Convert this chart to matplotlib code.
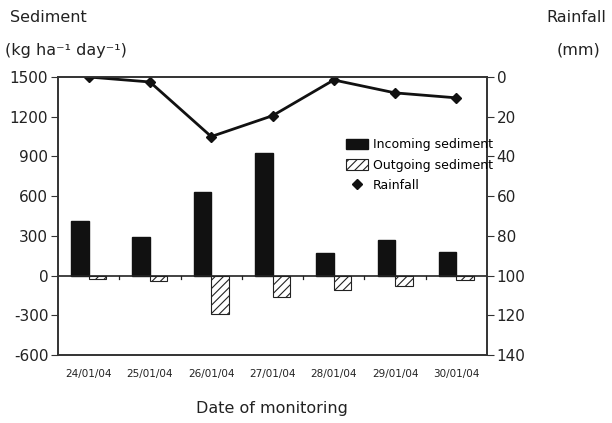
import matplotlib.pyplot as plt
import numpy as np

plt.rcParams['font.family'] = ['DejaVu Sans']
plt.rcParams['hatch.linewidth'] = 0.8

dates = ["24/01/04", "25/01/04", "26/01/04", "27/01/04", "28/01/04", "29/01/04", "30/01/04"]
incoming = [415, 295, 635, 925, 170, 265, 180]
outgoing = [-25, -42, -290, -160, -110, -75, -30]
rainfall = [0, 2.5, 30, 19.5, 1.5, 8, 10.5]

fig = plt.figure(figsize=(6.12, 4.23), dpi=100)
ax = fig.add_axes([58/612, 1-355/423, 429/612, 278/423])
x = np.arange(len(dates))
w = 0.285

ax.bar(x - w/2, incoming, w, color='#111111', edgecolor='#111111', label='Incoming sediment')
ax.bar(x + w/2, outgoing, w, color='white', edgecolor='#222222', hatch='////', linewidth=0.8,
       label='Outgoing sediment')
ax.axhline(0, color='#222222', lw=1.2)
for b in np.arange(0.5, len(dates) - 1, 1):
    ax.plot([b, b], [0, -25], color='#222222', lw=0.9)

ax.set_xlim(-0.5, len(dates) - 0.5)
ax.set_ylim(-600, 1500)
ax.set_yticks(range(-600, 1501, 300))
ax.set_yticklabels([str(v) for v in range(-600, 1501, 300)], fontsize=11, color='#222222')
ax.set_xticks(x)
ax.set_xticklabels(dates, fontsize=7.5, color='#222222')
ax.tick_params(axis='x', length=0, pad=10)
ax.tick_params(axis='y', length=5, direction='out', color='#333333', pad=2)
for s in ax.spines.values():
    s.set_color('#333333')
    s.set_linewidth(1.2)

ax2 = ax.twinx()
ax2.plot(x, rainfall, color='#111111', lw=2, marker='D', markersize=5, label='Rainfall')
ax2.set_ylim(140, 0)
ax2.set_yticks(range(0, 141, 20))
ax2.set_yticklabels([str(v) for v in range(0, 141, 20)], fontsize=11, color='#222222')
ax2.tick_params(axis='y', length=5, direction='out', color='#333333', pad=2)
for s in ax2.spines.values():
    s.set_color('#333333')
    s.set_linewidth(1.2)

h1, l1 = ax.get_legend_handles_labels()
rain_h = plt.Line2D([], [], color='#111111', marker='D', markersize=5, linestyle='none')
ax2.legend(h1 + [rain_h], l1 + ['Rainfall'], loc='upper left', bbox_to_anchor=(0.672, 0.78),
           frameon=False, fontsize=9, handlelength=1.7, handleheight=0.9, handletextpad=0.4,
           labelspacing=0.6, borderaxespad=0, borderpad=0)

fig.text(10/612, 1-18/423, "Sediment", fontsize=11.5, va='center', color='#222222')
fig.text(5/612, 1-50/423, "(kg ha\u207b\u00b9 day\u207b\u00b9)", fontsize=11.5, va='center', color='#222222')
fig.text(606/612, 1-18/423, "Rainfall", fontsize=11.5, va='center', ha='right', color='#222222')
fig.text(600/612, 1-50/423, "(mm)", fontsize=11.5, va='center', ha='right', color='#222222')
fig.text(272/612, 1-408/423, "Date of monitoring", fontsize=11.5, ha='center', va='center', color='#222222')

fig.savefig('out.png', dpi=100)
